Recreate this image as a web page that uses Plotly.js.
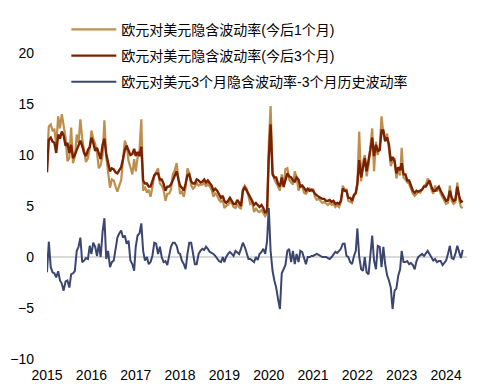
<!DOCTYPE html>
<html>
<head>
<meta charset="utf-8">
<script src="https://cdn.plot.ly/plotly-3.0.1.min.js"></script>
<style>html,body{margin:0;padding:0;background:#fff;}#chart{width:485px;height:387px;}</style>
</head>
<body>
<div id="chart"></div>
<script>
// Semi-monthly observations starting March 2015
const startYear = 2015;
const startMonth = 3;
const seriesNames = ['欧元对美元隐含波动率(今后1个月)', '欧元对美元隐含波动率(今后3个月)', '欧元对美元3个月隐含波动率-3个月历史波动率'];
const tickYears = ['2015','2016','2017','2018','2019','2020','2021','2022','2023','2024'];

const impliedVol1M = [
9.5,12.8, 13.0,12.4, 12.5,11.0, 13.8,12.6, 14.0,12.8, 11.7,9.4, 9.7,12.7, 9.2,9.8, 12.0,11.2, 13.5,11.6,
10.4,9.3, 9.7,10.6, 12.4,11.6, 11.1,10.2, 8.7,9.0, 10.0,13.4, 9.8,8.0, 6.8,7.6, 7.5,6.9, 6.4,7.0,
7.5,9.5, 11.4,10.9, 9.4,8.8, 8.1,9.6, 8.4,9.7, 10.5,13.5, 6.5,6.9, 6.3,6.6, 5.9,6.8, 8.0,8.3,
8.7,7.2, 7.0,6.6, 5.5,6.2, 6.2,6.6, 8.1,8.5, 9.2,7.6, 6.2,6.4, 5.9,6.8, 8.7,8.2, 7.0,6.7,
6.9,7.3, 7.0,7.1, 7.1,7.3, 6.9,7.2, 6.9,6.6, 5.9,6.3, 6.0,5.6, 5.4,5.6, 4.8,5.0, 5.1,5.4,
5.3,4.9, 4.8,5.2, 4.9,4.7, 6.7,7.0, 6.7,5.8, 5.2,5.3, 4.4,4.8, 4.5,4.4, 4.6,4.3, 4.0,4.3,
11.0,14.8, 8.4,7.6, 7.3,6.9, 6.5,8.1, 6.8,8.6, 8.7,7.6, 7.3,7.1, 8.4,7.8, 6.5,7.0, 7.0,6.3,
6.2,6.5, 6.7,6.4, 6.7,5.9, 5.6,5.7, 5.5,5.3, 5.4,5.2, 5.1,5.3, 5.1,5.2, 4.9,5.1, 4.9,5.4,
7.0,6.6, 6.6,5.5, 5.4,5.3, 6.0,6.2, 7.2,12.3, 7.4,9.3, 10.0,7.9, 9.0,10.8, 12.6,8.4, 11.3,10.0,
10.8,13.8, 12.1,11.3, 12.1,10.6, 8.9,9.4, 9.7,7.7, 8.5,8.0, 10.7,7.8, 7.6,7.3, 7.2,6.7, 6.2,6.0,
6.2,6.4, 6.3,6.7, 7.0,7.1, 7.7,7.4, 6.6,6.2, 7.0,6.4, 6.9,6.2, 5.8,5.4, 5.2,5.3, 7.0,5.5, 5.2,5.4, 7.3,5.6, 4.9,4.8
];

const impliedVol3M = [
8.3,11.5, 11.7,11.3, 11.2,10.2, 12.0,11.6, 12.3,11.9, 10.9,11.2, 10.2,11.0, 9.7,10.0, 10.5,11.0, 11.4,10.9,
10.2,9.9, 10.5,10.8, 11.7,11.2, 10.4,10.7, 10.1,9.6, 11.0,11.6, 10.1,9.2, 8.4,8.7, 8.6,8.3, 8.2,8.5,
8.8,9.6, 10.5,10.9, 10.4,10.0, 10.1,10.6, 9.9,10.3, 9.9,10.8, 7.5,7.2, 7.2,6.9, 6.9,7.4, 8.0,8.2,
8.2,7.6, 7.6,7.2, 6.5,6.9, 6.9,7.1, 7.5,7.9, 8.4,7.6, 7.0,6.8, 6.5,7.2, 8.0,8.1, 7.4,7.2,
7.2,7.6, 7.5,7.3, 7.4,7.6, 7.3,7.5, 7.2,7.0, 6.5,6.7, 6.5,6.2, 5.8,6.0, 5.5,5.3, 5.5,5.8,
5.5,5.2, 5.2,5.6, 5.3,5.0, 6.5,6.8, 6.5,6.2, 5.8,5.5, 5.1,5.3, 5.1,4.9, 5.1,4.8, 4.3,4.6,
9.7,13.0, 8.1,7.8, 7.8,7.2, 6.9,7.8, 6.9,7.5, 8.2,7.9, 7.8,7.5, 7.4,7.8, 7.6,6.9, 7.0,6.8,
6.5,6.7, 6.5,6.6, 6.5,6.2, 6.0,5.9, 5.8,5.7, 5.7,5.5, 5.5,5.6, 5.4,5.5, 5.2,5.3, 5.2,5.5,
6.7,6.5, 6.5,5.8, 5.8,5.5, 6.1,6.3, 7.2,9.5, 7.8,8.8, 9.7,8.4, 9.4,10.5, 11.7,9.9, 11.0,10.4,
10.5,12.4, 12.4,11.4, 11.7,11.0, 9.4,9.8, 9.4,8.2, 8.8,8.5, 9.2,8.1, 8.1,7.5, 7.5,7.0, 6.5,6.3,
6.5,6.4, 6.5,6.6, 6.9,6.9, 7.2,7.5, 6.9,6.5, 6.5,6.7, 6.9,6.5, 6.1,5.8, 5.5,5.6, 6.5,5.8, 5.5,5.6, 6.9,6.0, 5.4,5.5
];

const impliedMinusHist3M = [
-1.5,1.5, -1.0,-1.5, -1.6,-2.0, -1.4,-2.3, -2.6,-3.3, -2.4,-2.3, -3.0,-1.7, -1.6,-1.4, 0.6,1.0, 1.9,-0.5,
-0.35,-0.1, -0.2,1.1, 0.3,1.4, 1.0,0.1, 1.3,0.0, 2.5,3.8, -0.2,0.6, -1.0,-0.5, -0.35,1.0, 1.9,2.3,
2.6,1.9, 2.1,1.3, 1.6,-0.35, -0.7,-1.35, 1.0,2.1, 2.3,3.3, 0.6,-0.35, 0.0,-0.7, -0.5,0.1, 1.4,1.3,
0.3,1.0, 0.0,-0.5, -0.4,-0.8, 0.0,1.0, 1.4,1.4, 1.1,0.4, 0.3,-0.35, -0.7,-1.2, 0.3,1.4, 1.4,0.3,
-0.7,-0.7, 0.3,0.6, 0.8,0.7, 1.0,0.8, 0.5,0.4, 0.3,0.1, -0.2,-0.4, -0.5,0.0, -0.5,0.0, 0.3,0.5,
0.3,0.1, 0.6,0.4, 0.3,0.8, 1.4,1.0, 0.3,-0.2, -0.2,-0.35, -0.5,0.0, -0.3,0.3, 0.5,0.8, 0.3,1.6,
4.8,0.6, -1.35,-2.3, -3.0,-4.1, -5.1,-1.6, -1.2,-0.8, 0.6,0.8, -0.5,0.6, -0.7,0.3, -0.5,0.6, 0.5,-0.2,
-0.7,0.0, 0.0,0.1, 0.1,0.2, 0.3,0.2, 0.1,0.0, 0.0,0.0, -0.1,-0.2, 0.0,0.2, 0.5,0.4, 0.6,0.8,
1.3,1.3, 0.1,0.0, -0.5,-0.7, 0.1,0.6, 2.8,0.0, -1.2,-1.35, 0.0,-1.5, -1.7,0.3, 2.1,-0.35, -1.2,1.1,
1.0,-1.0, 1.0,-0.7, -1.8,-2.3, -3.0,-5.1, -3.3,-3.1, -1.8,-1.2, 0.6,-0.5, -0.5,-0.4, -0.7,-0.6, -0.8,-1.2,
-0.4,0.0, 0.2,0.3, 0.1,0.3, 0.6,0.3, -0.1,-0.35, -0.2,-0.5, -0.4,-0.4, -0.8,-0.5, -0.35,0.3, 1.1,-0.1, -0.2,0.3, 1.1,0.5, -0.1,0.7
];

function pad(n){return (n<10?'0':'')+n;}
const dates = impliedVol3M.map(function(_, i){
  const m = startMonth - 1 + Math.floor(i/2);
  const y = startYear + Math.floor(m/12);
  const mm = (m % 12) + 1;
  return y + '-' + pad(mm) + '-' + (i % 2 === 0 ? '01' : '16');
});
const tickVals = tickYears.map(function(y){return y + '-' + pad(startMonth) + '-01';});

const fontFam = '"Liberation Sans", Arial, "Noto Sans CJK SC", sans-serif';
const traces = [
  {x: dates, y: impliedVol1M, name: seriesNames[0], type: 'scatter', mode: 'lines', line: {color: '#C08E4C', width: 2.2}, legendgroup: 'a'},
  {x: dates, y: impliedVol3M, name: seriesNames[1], type: 'scatter', mode: 'lines', line: {color: '#7A2200', width: 2.4}, legendgroup: 'b'},
  {x: dates, y: impliedMinusHist3M, name: seriesNames[2], type: 'scatter', mode: 'lines', line: {color: '#3B4670', width: 2}, legendgroup: 'c'}
];

const layout = {
  width: 485, height: 387,
  margin: {l: 47, r: 18, t: 53, b: 28, autoexpand: false},
  paper_bgcolor: '#ffffff', plot_bgcolor: '#ffffff',
  font: {family: fontFam, size: 14, color: '#000000'},
  showlegend: true,
  legend: {x: 0.046, xanchor: 'left', y: 1.128, yanchor: 'top', bgcolor: 'rgba(0,0,0,0)',
    font: {family: fontFam, size: 14, color: '#000'},
    traceorder: 'grouped', tracegroupgap: 5, itemwidth: 45},
  xaxis: {type: 'date', range: ['2015-03-01', '2024-08-20'], tickmode: 'array', tickvals: tickVals, ticktext: tickYears,
    showgrid: false, zeroline: false, showline: false, ticks: '', ticklabelstandoff: 6,
    tickfont: {size: 14}},
  yaxis: {range: [-10, 20], tickvals: [-10,-5,0,5,10,15,20], showgrid: false, zeroline: true, zerolinecolor: '#D9D9D9', zerolinewidth: 2,
    showline: false, ticks: '', ticklabelstandoff: 12, tickfont: {size: 14}}
};

Plotly.newPlot('chart', traces, layout, {displayModeBar: false, staticPlot: true});
</script>
</body>
</html>
